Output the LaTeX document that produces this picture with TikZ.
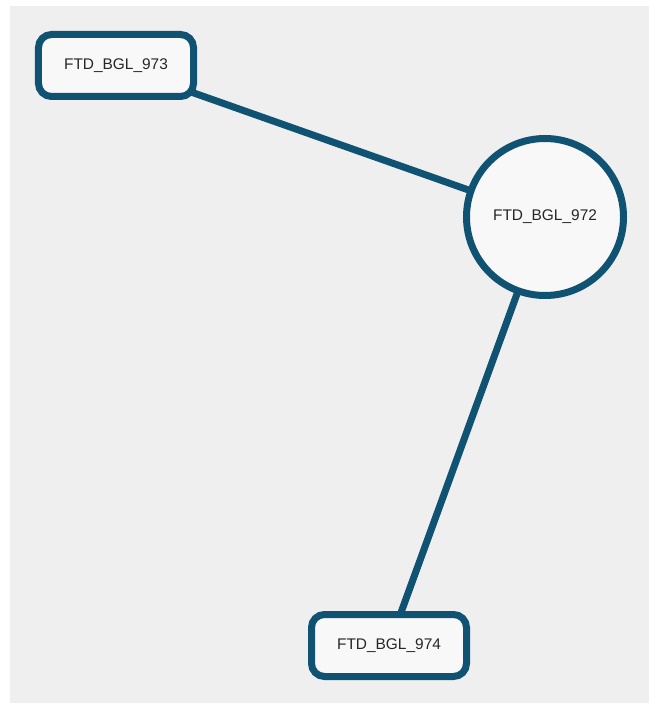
\documentclass[tikz,border=0pt]{standalone}
\usepackage{fontspec}
\setmainfont{Liberation Sans}
\usetikzlibrary{backgrounds}
\definecolor{edgeblue}{RGB}{15,82,114}
\definecolor{bggray}{RGB}{239,239,239}
\definecolor{nodefill}{RGB}{248,248,249}
\begin{document}
\begin{tikzpicture}[x=1bp,y=-1bp,
  boxnode/.style={draw=edgeblue, line width=7bp, fill=nodefill, rounded corners=13bp,
    minimum width=155bp, minimum height=62bp, inner sep=0pt, font=\fontsize{15.5}{17}\selectfont, text=black!85},
  circnode/.style={draw=edgeblue, line width=7bp, fill=nodefill, circle,
    minimum size=157bp, inner sep=0pt, font=\fontsize{15.5}{17}\selectfont, text=black!85},
  link/.style={draw=edgeblue, line width=7bp}]
\useasboundingbox (0,0) rectangle (649,703);
\node[circnode] (n972) at (545,217) {FTD\_BGL\_972};
\node[boxnode] (n973) at (116,65.5) {FTD\_BGL\_973};
\node[boxnode] (n974) at (389,645.5) {FTD\_BGL\_974};
\begin{scope}[on background layer]
\fill[white] (0,0) rectangle (649,703);
\fill[bggray] (10,6) rectangle (649,703);
\draw[link] (n973.center) -- (n972.center);
\draw[link] (n972.center) -- (n974.center);
\end{scope}
\end{tikzpicture}
\end{document}
